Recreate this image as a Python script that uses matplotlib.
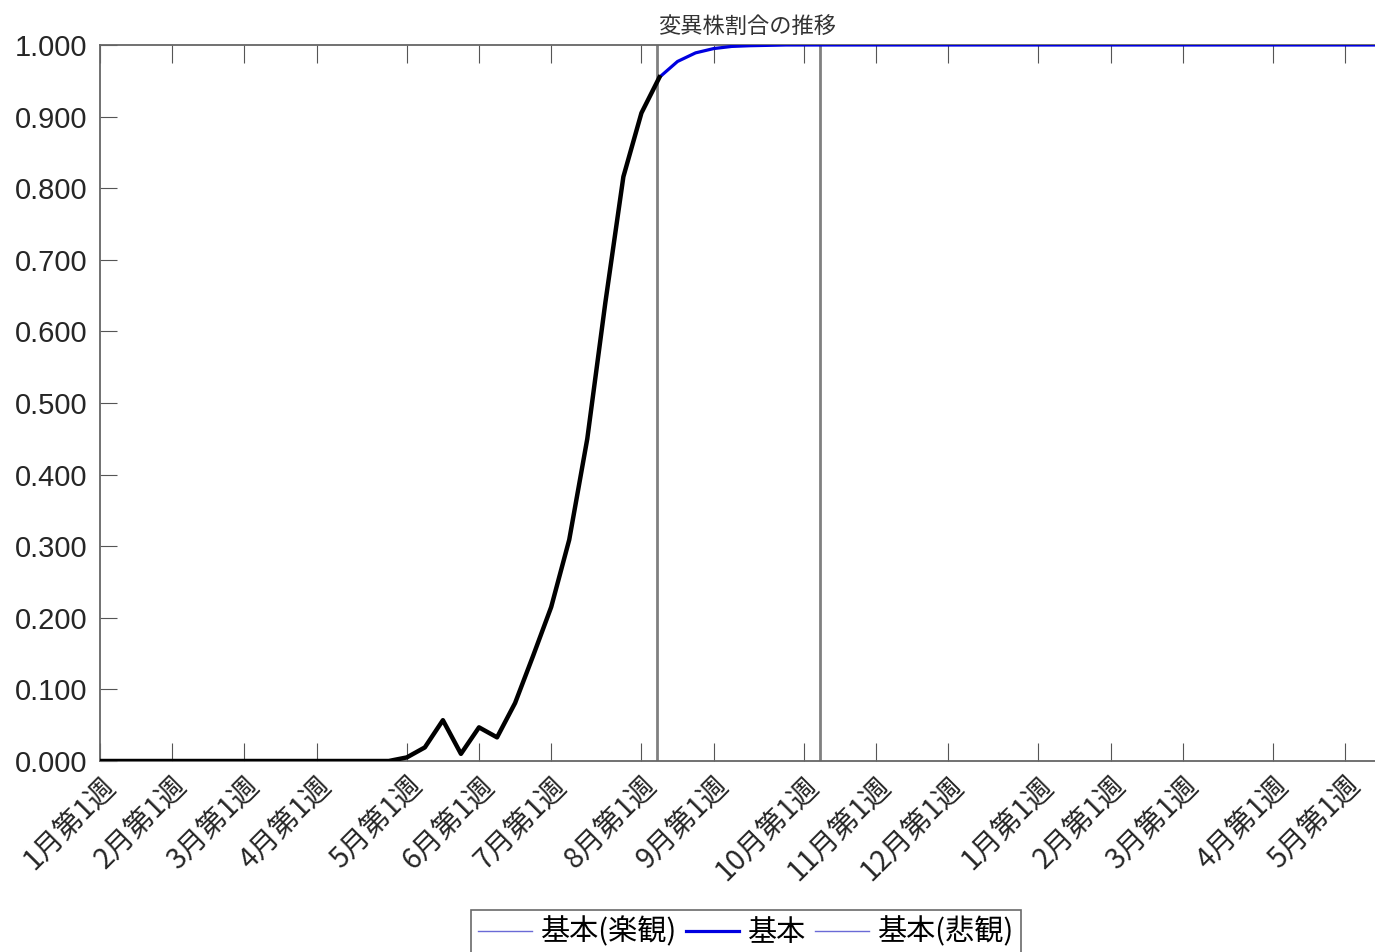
import matplotlib
matplotlib.use('Agg')
import matplotlib.pyplot as plt

plt.rcParams['font.family'] = ['Liberation Sans', 'Noto Sans CJK JP', 'DejaVu Sans']

# weekly index, 0 = 1月第1週
weeks_actual = list(range(0, 32))
actual = [0.0] * 17 + [0.005, 0.019, 0.057, 0.010, 0.047, 0.033, 0.081, 0.147,
                       0.215, 0.309, 0.450, 0.640, 0.816, 0.905, 0.955]

weeks_base = list(range(31, 72))
base = [0.955, 0.977, 0.989, 0.995, 0.998, 0.999, 0.9995] + [1.0] * 34
optimistic = [0.955, 0.977, 0.989, 0.995, 0.998, 0.999, 0.9995] + [1.0] * 34
pessimistic = [0.955, 0.977, 0.989, 0.995, 0.998, 0.999, 0.9995] + [1.0] * 34

vlines = [30.85, 39.9]

tick_weeks = [0, 4, 8, 12, 17, 21, 25, 30, 34, 39, 43, 47, 52, 56, 60, 65, 69]
tick_labels = ['1月第1週', '2月第1週', '3月第1週', '4月第1週', '5月第1週', '6月第1週',
               '7月第1週', '8月第1週', '9月第1週', '10月第1週', '11月第1週', '12月第1週',
               '1月第1週', '2月第1週', '3月第1週', '4月第1週', '5月第1週']

fig = plt.figure(figsize=(13.75, 9.52), dpi=100)
ax = fig.add_axes([100 / 1375, (952 - 761) / 952, 1294 / 1375, 716 / 952])

for v in vlines:
    ax.axvline(v, color='#808080', lw=2, zorder=1)

l1, = ax.plot(weeks_base, optimistic, color='#6a6ad6', lw=1, zorder=2)
l3, = ax.plot(weeks_base, pessimistic, color='#6a6ad6', lw=1, zorder=2)
l2, = ax.plot(weeks_base, base, color='#0000e0', lw=2.3, zorder=3)
ax.plot(weeks_actual, actual, color='black', lw=3.2, zorder=4)

ax.set_xlim(0, 71.7)
ax.set_ylim(0, 1.0)
ax.set_yticks([i / 10 for i in range(11)])
ax.set_yticklabels(['%.3f' % (i / 10) for i in range(11)], fontsize=21, color='#262626')
ax.set_xticks(tick_weeks)
ax.set_xticklabels(tick_labels, fontsize=20.5, color='#262626', rotation=45,
                   ha='right', va='top', rotation_mode='anchor',
                   family=['Noto Sans CJK JP', 'DejaVu Sans'])
ax.tick_params(axis='x', direction='in', length=13, top=True, pad=7, color='#555555')
ax.tick_params(axis='y', direction='in', length=12, pad=9, color='#555555')
for s in ['left', 'bottom', 'top']:
    ax.spines[s].set_color('#666666')
    ax.spines[s].set_linewidth(1.3)
ax.spines['right'].set_visible(False)

ax.set_title('変異株割合の推移', fontsize=16, color='#333333', pad=9,
             family=['Noto Sans CJK JP', 'DejaVu Sans'])

leg = fig.legend([l1, l2, l3], ['基本(楽観)', '基本', '基本(悲観)'],
                 loc='upper center', bbox_to_anchor=(746 / 1375, 1 - 910 / 952),
                 ncol=3, fontsize=21, frameon=True, fancybox=False,
                 edgecolor='#444444', handlelength=1.85, handletextpad=0.3,
                 columnspacing=0.3, borderpad=0.25, borderaxespad=0,
                 prop={'family': ['Noto Sans CJK JP', 'DejaVu Sans'], 'size': 21})
leg.get_frame().set_linewidth(1.2)

fig.savefig('out.png', dpi=100)
